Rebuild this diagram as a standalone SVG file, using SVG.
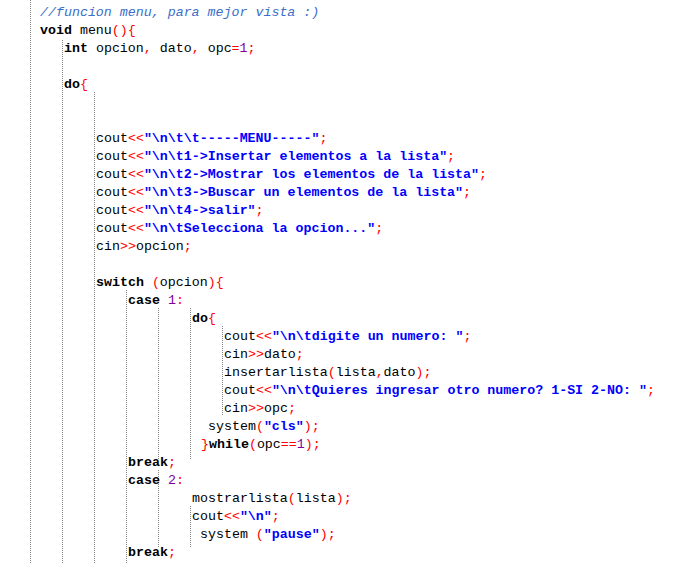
<svg xmlns="http://www.w3.org/2000/svg" width="697" height="563" viewBox="0 0 697 563">
<style>
text{font-family:"Liberation Mono","DejaVu Sans Mono",monospace;font-size:13.3px;fill:#000;white-space:pre}
.k{font-weight:bold}
.s{font-weight:bold;fill:#0000ff}
.o{fill:#ff0000}
.n{fill:#8000a0}
.c{font-style:italic;fill:#3a6ec8}
.g{stroke:#888;stroke-width:1;stroke-dasharray:1 1}
</style>
<rect width="697" height="563" fill="#fff"/>
<g id="guides">
<line class="g" x1="30.5" y1="0" x2="30.5" y2="563"/>
<line class="g" x1="62.5" y1="40" x2="62.5" y2="563"/>
<line class="g" x1="94.5" y1="92" x2="94.5" y2="563"/>
<line class="g" x1="126.5" y1="290" x2="126.5" y2="563"/>
<line class="g" x1="158.5" y1="308" x2="158.5" y2="460"/>
<line class="g" x1="190.5" y1="308" x2="190.5" y2="460"/>
<line class="g" x1="222.5" y1="326" x2="222.5" y2="416"/>
<line class="g" x1="158.5" y1="470" x2="158.5" y2="547"/>
<line class="g" x1="190.5" y1="506" x2="190.5" y2="547"/>
</g>
<g id="code">
<text x="40" y="16" class="c">//funcion menu, para mejor vista :)</text>
<text x="40" y="34"><tspan class="k">void</tspan> menu<tspan class="o">(){</tspan></text>
<text x="64" y="52"><tspan class="k">int</tspan> opcion<tspan class="o">,</tspan> dato<tspan class="o">,</tspan> opc<tspan class="o">=</tspan><tspan class="n">1</tspan><tspan class="o">;</tspan></text>
<text x="64" y="88"><tspan class="k">do</tspan><tspan class="o">{</tspan></text>
<text x="96" y="142">cout<tspan class="o">&lt;&lt;</tspan><tspan class="s">"\n\t\t-----MENU-----"</tspan><tspan class="o">;</tspan></text>
<text x="96" y="160">cout<tspan class="o">&lt;&lt;</tspan><tspan class="s">"\n\t1-&gt;Insertar elementos a la lista"</tspan><tspan class="o">;</tspan></text>
<text x="96" y="178">cout<tspan class="o">&lt;&lt;</tspan><tspan class="s">"\n\t2-&gt;Mostrar los elementos de la lista"</tspan><tspan class="o">;</tspan></text>
<text x="96" y="196">cout<tspan class="o">&lt;&lt;</tspan><tspan class="s">"\n\t3-&gt;Buscar un elementos de la lista"</tspan><tspan class="o">;</tspan></text>
<text x="96" y="214">cout<tspan class="o">&lt;&lt;</tspan><tspan class="s">"\n\t4-&gt;salir"</tspan><tspan class="o">;</tspan></text>
<text x="96" y="232">cout<tspan class="o">&lt;&lt;</tspan><tspan class="s">"\n\tSelecciona la opcion..."</tspan><tspan class="o">;</tspan></text>
<text x="96" y="250">cin<tspan class="o">&gt;&gt;</tspan>opcion<tspan class="o">;</tspan></text>
<text x="96" y="286"><tspan class="k">switch</tspan> <tspan class="o">(</tspan>opcion<tspan class="o">){</tspan></text>
<text x="128" y="304"><tspan class="k">case</tspan> <tspan class="n">1</tspan><tspan class="o">:</tspan></text>
<text x="192" y="322"><tspan class="k">do</tspan><tspan class="o">{</tspan></text>
<text x="224" y="340">cout<tspan class="o">&lt;&lt;</tspan><tspan class="s">"\n\tdigite un numero: "</tspan><tspan class="o">;</tspan></text>
<text x="224" y="358">cin<tspan class="o">&gt;&gt;</tspan>dato<tspan class="o">;</tspan></text>
<text x="224" y="376">insertarlista<tspan class="o">(</tspan>lista<tspan class="o">,</tspan>dato<tspan class="o">);</tspan></text>
<text x="224" y="394">cout<tspan class="o">&lt;&lt;</tspan><tspan class="s">"\n\tQuieres ingresar otro numero? 1-SI 2-NO: "</tspan><tspan class="o">;</tspan></text>
<text x="224" y="412">cin<tspan class="o">&gt;&gt;</tspan>opc<tspan class="o">;</tspan></text>
<text x="208" y="430">system<tspan class="o">(</tspan><tspan class="s">"cls"</tspan><tspan class="o">);</tspan></text>
<text x="201" y="448"><tspan class="o">}</tspan><tspan class="k">while</tspan><tspan class="o">(</tspan>opc<tspan class="o">==</tspan><tspan class="n">1</tspan><tspan class="o">);</tspan></text>
<text x="128" y="466"><tspan class="k">break</tspan><tspan class="o">;</tspan></text>
<text x="128" y="484"><tspan class="k">case</tspan> <tspan class="n">2</tspan><tspan class="o">:</tspan></text>
<text x="192" y="502">mostrarlista<tspan class="o">(</tspan>lista<tspan class="o">);</tspan></text>
<text x="192" y="520">cout<tspan class="o">&lt;&lt;</tspan><tspan class="s">"\n"</tspan><tspan class="o">;</tspan></text>
<text x="200" y="538">system <tspan class="o">(</tspan><tspan class="s">"pause"</tspan><tspan class="o">);</tspan></text>
<text x="128" y="556"><tspan class="k">break</tspan><tspan class="o">;</tspan></text>
</g>
</svg>
